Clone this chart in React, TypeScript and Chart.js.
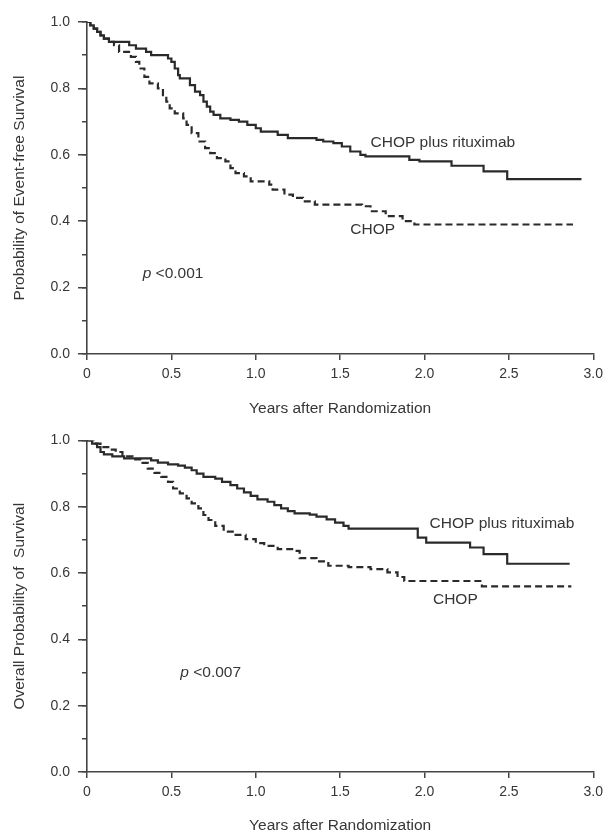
import React, { useEffect, useRef } from 'react';
import { Chart, registerables } from 'chart.js';

Chart.register(...registerables);

// ---------- Data ----------
// Top panel: event-free survival
const efsRituxTimes = [0, 0.02, 0.04, 0.06, 0.08, 0.10, 0.13, 0.25, 0.29, 0.35, 0.38, 0.48, 0.50, 0.52, 0.54, 0.55, 0.61, 0.64, 0.67, 0.69, 0.71, 0.73, 0.75, 0.79, 0.85, 0.90, 0.95, 1.00, 1.03, 1.13, 1.19, 1.36, 1.40, 1.46, 1.51, 1.56, 1.62, 1.65, 1.91, 1.97, 2.16, 2.35, 2.49, 2.93];
const efsRituxSurv = [1.0, 0.99, 0.98, 0.97, 0.96, 0.95, 0.94, 0.93, 0.92, 0.91, 0.90, 0.89, 0.88, 0.86, 0.84, 0.83, 0.81, 0.79, 0.78, 0.76, 0.745, 0.73, 0.72, 0.71, 0.705, 0.70, 0.69, 0.68, 0.67, 0.66, 0.65, 0.645, 0.64, 0.635, 0.625, 0.61, 0.60, 0.595, 0.585, 0.58, 0.567, 0.55, 0.527, 0.527];

const efsChopTimes = [0, 0.02, 0.04, 0.06, 0.08, 0.10, 0.13, 0.16, 0.19, 0.26, 0.29, 0.31, 0.34, 0.37, 0.42, 0.45, 0.47, 0.49, 0.52, 0.57, 0.59, 0.62, 0.66, 0.70, 0.73, 0.77, 0.82, 0.85, 0.88, 0.93, 0.97, 1.08, 1.10, 1.17, 1.22, 1.28, 1.35, 1.63, 1.68, 1.77, 1.87, 1.94, 2.88];
const efsChopSurv = [1.0, 0.99, 0.98, 0.97, 0.96, 0.95, 0.94, 0.93, 0.91, 0.895, 0.88, 0.86, 0.835, 0.815, 0.80, 0.78, 0.76, 0.74, 0.725, 0.71, 0.69, 0.665, 0.64, 0.62, 0.605, 0.59, 0.58, 0.56, 0.545, 0.535, 0.52, 0.51, 0.495, 0.48, 0.47, 0.46, 0.45, 0.445, 0.43, 0.415, 0.40, 0.39, 0.39];

// Bottom panel: overall survival
const osRituxTimes = [0, 0.03, 0.06, 0.08, 0.10, 0.15, 0.22, 0.38, 0.42, 0.48, 0.54, 0.58, 0.62, 0.65, 0.69, 0.76, 0.80, 0.85, 0.89, 0.93, 0.97, 1.01, 1.07, 1.11, 1.15, 1.19, 1.23, 1.32, 1.36, 1.42, 1.47, 1.52, 1.55, 1.96, 2.01, 2.27, 2.35, 2.49, 2.86];
const osRituxSurv = [1.0, 0.99, 0.98, 0.965, 0.958, 0.952, 0.946, 0.94, 0.933, 0.928, 0.924, 0.918, 0.91, 0.90, 0.89, 0.885, 0.875, 0.865, 0.855, 0.843, 0.833, 0.822, 0.815, 0.805, 0.795, 0.787, 0.78, 0.776, 0.77, 0.762, 0.752, 0.742, 0.734, 0.707, 0.692, 0.677, 0.657, 0.628, 0.628];

const osChopTimes = [0, 0.04, 0.08, 0.14, 0.17, 0.21, 0.27, 0.32, 0.36, 0.40, 0.44, 0.48, 0.51, 0.55, 0.59, 0.62, 0.66, 0.69, 0.72, 0.76, 0.81, 0.87, 0.94, 1.00, 1.05, 1.13, 1.23, 1.26, 1.36, 1.43, 1.55, 1.68, 1.78, 1.84, 1.88, 2.34, 2.87];
const osChopSurv = [1.0, 0.99, 0.98, 0.972, 0.965, 0.952, 0.943, 0.932, 0.915, 0.902, 0.89, 0.875, 0.855, 0.84, 0.825, 0.81, 0.795, 0.775, 0.76, 0.742, 0.725, 0.715, 0.702, 0.69, 0.682, 0.672, 0.667, 0.645, 0.635, 0.622, 0.618, 0.612, 0.602, 0.588, 0.576, 0.56, 0.56];

const xTickValues = [0, 0.5, 1.0, 1.5, 2.0, 2.5, 3.0];
const seriesNames = ['CHOP plus rituximab', 'CHOP'];
const xTitle = 'Years after Randomization';
const efsYTitle = 'Probability of Event-free Survival';
const osYTitle = 'Overall Probability of  Survival';
const efsPText = '<0.001';
const osPText = '<0.007';

// ---------- Styles ----------
const FONT = '"Liberation Sans", Arial, Helvetica, sans-serif';
const TEXT = '#363636';
const AXIS = '#444444';
const LINE = '#2a2a2a';
const LABEL_SIZE = 15.5;

type Label = { t: number; s: number; text: string; italic?: string };

const textPlugin = {
  id: 'kmLabels',
  afterDatasetsDraw(chart: any, _args: any, opts: any) {
    const { ctx, scales } = chart;
    const labels: Label[] = (opts && opts.labels) || [];
    ctx.save();
    ctx.fillStyle = TEXT;
    ctx.textBaseline = 'middle';
    ctx.textAlign = 'left';
    for (const l of labels) {
      let x = scales.x.getPixelForValue(l.t);
      const y = scales.y.getPixelForValue(l.s);
      if (l.italic) {
        ctx.font = `italic ${LABEL_SIZE}px ${FONT}`;
        ctx.fillText(l.italic, x, y);
        x += ctx.measureText(l.italic + ' ').width;
      }
      ctx.font = `${LABEL_SIZE}px ${FONT}`;
      ctx.fillText(l.text, x, y);
    }
    ctx.restore();
  },
};

function toXY(t: number[], s: number[]) {
  return t.map((v, i) => ({ x: v, y: s[i] }));
}

type PanelProps = {
  top: number;
  height: number;
  padTop: number;
  xAxisHeight: number;
  titlePadBottom: number;
  yTitle: string;
  rTimes: number[];
  rSurv: number[];
  cTimes: number[];
  cSurv: number[];
  labels: Label[];
};

function Panel(p: PanelProps) {
  const ref = useRef<HTMLCanvasElement | null>(null);
  useEffect(() => {
    if (!ref.current) return;
    const tickFont = { family: FONT, size: 14 };
    const titleFont = { family: FONT, size: 15.5 };
    const chart = new Chart(ref.current, {
      type: 'line',
      data: {
        datasets: [
          {
            label: seriesNames[0],
            data: toXY(p.rTimes, p.rSurv),
            borderColor: LINE,
            borderWidth: 2.2,
            stepped: true,
            pointRadius: 0,
            fill: false,
            yAxisID: 'y',
          },
          {
            label: seriesNames[1],
            data: toXY(p.cTimes, p.cSurv),
            borderColor: LINE,
            borderWidth: 2.2,
            borderDash: [7, 4],
            stepped: true,
            pointRadius: 0,
            fill: false,
            yAxisID: 'y',
          },
        ],
      },
      options: {
        animation: false,
        responsive: false,
        maintainAspectRatio: false,
        events: [],
        layout: { padding: { top: p.padTop, right: 15, left: 0, bottom: 0 } },
        plugins: {
          legend: { display: false },
          tooltip: { enabled: false },
          // @ts-ignore
          kmLabels: { labels: p.labels },
        },
        scales: {
          x: {
            type: 'linear',
            min: 0,
            max: 3,
            afterFit: (s: any) => {
              s.height = p.xAxisHeight;
            },
            afterBuildTicks: (s: any) => {
              s.ticks = xTickValues.map((v) => ({ value: v }));
            },
            ticks: {
              callback: (v: any) => (Number(v) === 0 ? '0' : Number(v).toFixed(1)),
              color: TEXT,
              font: tickFont,
              padding: 6,
              maxRotation: 0,
              autoSkip: false,
            },
            grid: { display: true, drawOnChartArea: false, drawTicks: true, tickLength: 6, color: AXIS, lineWidth: 1.5 },
            border: { display: true, color: AXIS, width: 1.6 },
            title: { display: true, text: xTitle, color: TEXT, font: titleFont, padding: { top: 0, bottom: p.titlePadBottom } },
          },
          y: {
            type: 'linear',
            position: 'left',
            min: 0,
            max: 1,
            weight: 1,
            afterFit: (s: any) => {
              s.width = 87;
            },
            ticks: {
              stepSize: 0.2,
              callback: (v: any) => Number(v).toFixed(1),
              color: TEXT,
              font: tickFont,
              padding: 8,
            },
            grid: { display: true, drawOnChartArea: false, drawTicks: true, tickLength: 9, color: AXIS, lineWidth: 1.5 },
            border: { display: true, color: AXIS, width: 1.6 },
            title: { display: true, text: p.yTitle, color: TEXT, font: titleFont, padding: { top: 10, bottom: 0 } },
          },
          y2: {
            type: 'linear',
            position: 'left',
            min: 0,
            max: 1,
            weight: 0,
            afterFit: (s: any) => {
              s.width = 0;
            },
            ticks: { stepSize: 0.1, display: false },
            grid: { display: true, drawOnChartArea: false, drawTicks: true, tickLength: 5, color: AXIS, lineWidth: 1.5 },
            border: { display: false },
          },
        },
      },
      plugins: [textPlugin as any],
    } as any);
    return () => chart.destroy();
  }, []);
  return (
    <canvas
      ref={ref}
      width={609}
      height={p.height}
      style={{ position: 'absolute', left: 0, top: p.top, width: 609, height: p.height }}
    />
  );
}

export default function App() {
  return (
    <div style={{ position: 'absolute', left: 0, top: 0, width: 609, height: 835, background: '#fff', overflow: 'hidden' }}>
      <Panel
        top={0}
        height={424}
        padTop={22}
        xAxisHeight={70}
        titlePadBottom={6}
        yTitle={efsYTitle}
        rTimes={efsRituxTimes}
        rSurv={efsRituxSurv}
        cTimes={efsChopTimes}
        cSurv={efsChopSurv}
        labels={[
          { t: 1.68, s: 0.637, text: seriesNames[0] },
          { t: 1.56, s: 0.375, text: seriesNames[1] },
          { t: 0.33, s: 0.243, text: efsPText, italic: 'p' },
        ]}
      />
      <Panel
        top={424}
        height={411}
        padTop={13}
        xAxisHeight={63}
        titlePadBottom={0}
        yTitle={osYTitle}
        rTimes={osRituxTimes}
        rSurv={osRituxSurv}
        cTimes={osChopTimes}
        cSurv={osChopSurv}
        labels={[
          { t: 2.03, s: 0.75, text: seriesNames[0] },
          { t: 2.05, s: 0.52, text: seriesNames[1] },
          { t: 0.553, s: 0.298, text: osPText, italic: 'p' },
        ]}
      />
    </div>
  );
}
